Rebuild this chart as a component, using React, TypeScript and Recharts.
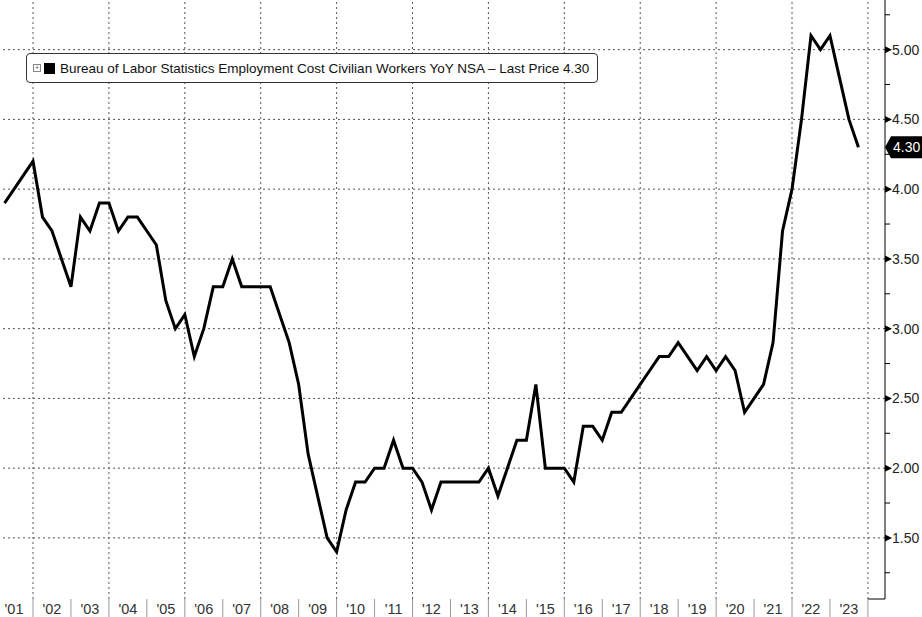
import { CartesianGrid, Legend, Line, LineChart, ReferenceLine, XAxis, YAxis } from 'recharts'

// quarterly YoY %, 2001 Q1 .. 2023 Q3
const START_YEAR = 2001
const YOY = [
  3.9, 4.0, 4.1, 4.2,
  3.8, 3.7, 3.5, 3.3,
  3.8, 3.7, 3.9, 3.9,
  3.7, 3.8, 3.8, 3.7,
  3.6, 3.2, 3.0, 3.1,
  2.8, 3.0, 3.3, 3.3,
  3.5, 3.3, 3.3, 3.3,
  3.3, 3.1, 2.9, 2.6,
  2.1, 1.8, 1.5, 1.4,
  1.7, 1.9, 1.9, 2.0,
  2.0, 2.2, 2.0, 2.0,
  1.9, 1.7, 1.9, 1.9,
  1.9, 1.9, 1.9, 2.0,
  1.8, 2.0, 2.2, 2.2,
  2.6, 2.0, 2.0, 2.0,
  1.9, 2.3, 2.3, 2.2,
  2.4, 2.4, 2.5, 2.6,
  2.7, 2.8, 2.8, 2.9,
  2.8, 2.7, 2.8, 2.7,
  2.8, 2.7, 2.4, 2.5,
  2.6, 2.9, 3.7, 4.0,
  4.5, 5.1, 5.0, 5.1,
  4.8, 4.5, 4.3,
]
const YEAR_LABELS = [
  "'01", "'02", "'03", "'04", "'05", "'06", "'07", "'08", "'09", "'10", "'11", "'12",
  "'13", "'14", "'15", "'16", "'17", "'18", "'19", "'20", "'21", "'22", "'23",
]
const GRID_YEARS = [2002, 2004, 2006, 2008, 2010, 2012, 2014, 2016, 2018, 2020, 2022, 2024]
const Y_MAJOR = [1.5, 2.0, 2.5, 3.0, 3.5, 4.0, 4.5, 5.0]
const Y_MINOR = [1.25, 1.75, 2.25, 2.75, 3.25, 3.75, 4.25, 4.75, 5.25]
const LAST = 4.3
const TITLE = 'Bureau of Labor Statistics Employment Cost Civilian Workers YoY NSA – Last Price 4.30'

const X_DOMAIN: [number, number] = [2001.13, 2024.45]
const Y_DOMAIN: [number, number] = [1.062, 5.356]
const FONT = '"Liberation Sans", Arial, sans-serif'
const GRID = { stroke: '#555', strokeDasharray: '2 3' }

const data = YOY.map((v, i) => ({ t: START_YEAR + (i + 1) / 4, v }))
const xTicks = YEAR_LABELS.flatMap((_, i) => [START_YEAR + i + 0.5, START_YEAR + i + 1])
const yTicks = [...Y_MINOR, ...Y_MAJOR, LAST]

const XTick = ({ x, y, payload }: any) => {
  const value = payload.value as number
  if (Number.isInteger(value)) {
    return <line x1={x} x2={x} y1={y} y2={y + 18} stroke="#9a9a9a" />
  }
  const label = YEAR_LABELS[Math.floor(value - START_YEAR)]
  return (
    <text x={x} y={y + 15} textAnchor="middle" fontSize={14.5} fontFamily={FONT} fill="#333">
      {label}
    </text>
  )
}

const YTick = ({ x, y, payload, index }: any) => {
  const value = payload.value as number
  if (index === yTicks.length - 1) {
    return (
      <g>
        <polygon
          points={`${x},${y} ${x + 6},${y - 11} ${x + 37},${y - 11} ${x + 37},${y + 11} ${x + 6},${y + 11}`}
          fill="#000"
        />
        <text x={x + 8} y={y + 5} fontSize={14} fontFamily={FONT} fill="#fff">
          {LAST.toFixed(2)}
        </text>
      </g>
    )
  }
  if (Y_MAJOR.includes(value)) {
    return (
      <g>
        <polygon points={`${x},${y - 3.5} ${x + 7},${y} ${x},${y + 3.5}`} fill="#000" />
        <text x={x + 7} y={y + 5} fontSize={14} fontFamily={FONT} fill="#222">
          {value.toFixed(2)}
        </text>
      </g>
    )
  }
  return <line x1={x} x2={x + 5} y1={y} y2={y} stroke="#000" />
}

const LegendBox = () => (
  <div
    style={{
      display: 'flex',
      alignItems: 'center',
      height: 30,
      width: 572,
      boxSizing: 'border-box',
      border: '1px solid #333',
      borderRadius: 4,
      background: '#fff',
      fontFamily: FONT,
      fontSize: 13.5,
      color: '#111',
      whiteSpace: 'nowrap',
    }}
  >
    <span
      style={{
        width: 6,
        height: 6,
        border: '1px solid #888',
        marginLeft: 6,
        fontSize: 7,
        lineHeight: '6px',
        textAlign: 'center',
        color: '#555',
      }}
    >
      +
    </span>
    <span style={{ width: 11, height: 11, background: '#000', marginLeft: 3, marginRight: 5 }} />
    <span>{TITLE}</span>
  </div>
)

export default function App() {
  return (
    <div style={{ position: 'absolute', left: 0, top: 0, background: '#fff' }}>
      <LineChart width={922} height={617} data={data} margin={{ top: 0, right: 0, bottom: 0, left: 0 }}>
        <CartesianGrid vertical={false} horizontal={false} />
        <XAxis
          dataKey="t"
          type="number"
          domain={X_DOMAIN}
          allowDataOverflow
          ticks={xTicks}
          interval={0}
          height={18}
          axisLine={false}
          tickLine={false}
          tickSize={0}
          tickMargin={0}
          tick={<XTick />}
        />
        <YAxis
          orientation="right"
          type="number"
          domain={Y_DOMAIN}
          allowDataOverflow
          ticks={yTicks}
          interval={0}
          width={37}
          axisLine={{ stroke: '#000' }}
          tickLine={false}
          tickSize={0}
          tickMargin={0}
          tick={<YTick />}
        />
        {Y_MAJOR.map((v) => (
          <ReferenceLine key={`h${v}`} y={v} {...GRID} />
        ))}
        {GRID_YEARS.map((yr) => (
          <ReferenceLine key={`v${yr}`} x={yr} {...GRID} />
        ))}
        <ReferenceLine
          segment={[
            { x: 2024, y: Y_DOMAIN[0] },
            { x: X_DOMAIN[1], y: Y_DOMAIN[0] },
          ]}
          stroke="#000"
        />
        <Legend
          verticalAlign="middle"
          align="center"
          layout="horizontal"
          wrapperStyle={{ top: 53, left: 26, width: 'auto', height: 'auto' }}
          content={() => <LegendBox />}
        />
        <Line
          dataKey="v"
          type="linear"
          stroke="#000"
          strokeWidth={3}
          dot={false}
          activeDot={false}
          isAnimationActive={false}
        />
      </LineChart>
    </div>
  )
}
